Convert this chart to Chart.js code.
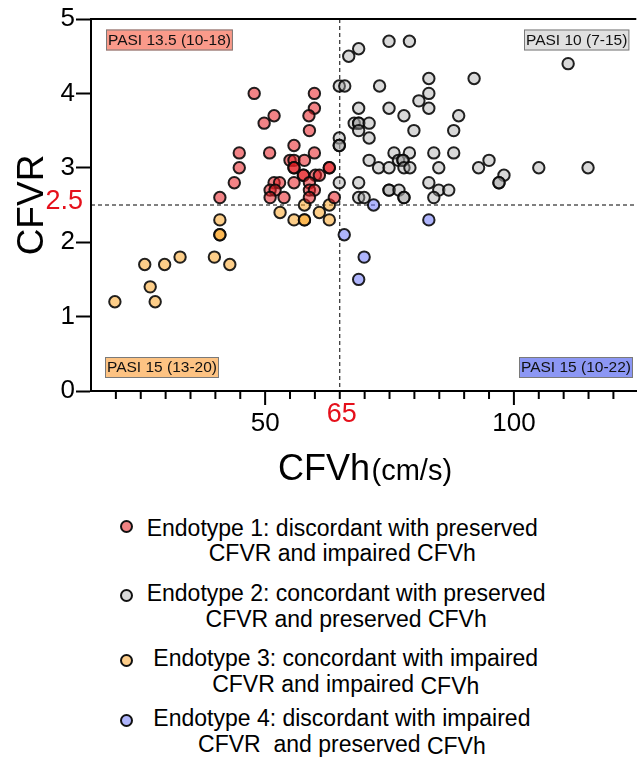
<!DOCTYPE html>
<html>
<head>
<meta charset="utf-8">
<script src="https://cdn.jsdelivr.net/npm/chart.js@4.4.1/dist/chart.umd.min.js"></script>
<style>
  body { margin: 0; background: #fff; font-family: "Liberation Sans", Arial, sans-serif; }
  #wrap { position: relative; width: 644px; height: 759px; overflow: hidden; }
  #plot { position: absolute; left: 0; top: 0; }
  .dot { position: absolute; width: 9px; height: 9px; border: 2px solid #111; border-radius: 50%; }
  .txt { position: absolute; font-size: 23px; line-height: 25.5px; text-align: center; white-space: pre; color: #000; }
  .low { position: relative; top: 2px; }
</style>
</head>
<body>
<div id="wrap">
  <canvas id="plot" width="644" height="500"></canvas>
  <div id="legend"></div>
</div>
<script>
// datos: [CFVh, CFVR]
var endotipo1 = [
  [47.8,4.0],[59.9,4.0],[59.9,3.8],[58.8,3.7],[51.8,3.7],[49.8,3.6],[58.9,3.5],
  [44.8,3.2],[50.9,3.2],[55.8,3.3],[59.9,3.2],[44.8,3.0],[55.0,3.1],[55.8,3.1],[57.9,3.1],
  [55.8,3.0],[55.8,3.0],[62.9,3.0],[62.9,3.0],[57.7,2.9],[57.7,2.9],[60.1,2.9],[60.9,2.9],
  [43.8,2.8],[51.8,2.8],[52.9,2.8],[55.8,2.8],[58.9,2.8],[51.0,2.7],[52.0,2.7],[58.9,2.7],
  [59.9,2.7],[40.9,2.6],[51.0,2.6],[53.8,2.6],[58.9,2.6],[63.9,2.6]
];
var endotipo2 = [
  [74.9,4.7],[79.0,4.7],[68.8,4.6],[66.8,4.5],[110.9,4.4],[82.9,4.2],[92.0,4.2],[64.9,4.1],
  [66.0,4.1],[73.0,4.1],[82.9,4.0],[80.9,3.9],[68.8,3.8],[74.9,3.8],[82.9,3.8],[77.9,3.7],
  [88.9,3.7],[67.9,3.6],[68.8,3.6],[68.8,3.6],[70.9,3.6],[68.8,3.5],[79.9,3.5],[87.9,3.5],
  [64.9,3.4],[70.9,3.4],[64.9,3.3],[64.9,3.3],[75.9,3.2],[79.0,3.2],[83.9,3.2],[87.9,3.2],
  [70.9,3.1],[76.8,3.1],[77.7,3.1],[77.7,3.1],[95.0,3.1],[72.8,3.0],[74.9,3.0],[77.9,3.0],
  [79.1,3.0],[84.9,3.0],[92.9,3.0],[105.0,3.0],[114.9,3.0],[98.0,2.9],[97.0,2.8],[97.0,2.8],
  [64.9,2.8],[68.8,2.8],[82.9,2.8],[74.9,2.7],[74.9,2.7],[76.9,2.7],[84.9,2.7],[86.9,2.7],
  [68.8,2.6],[69.9,2.6],[77.9,2.6],[77.9,2.6],[83.9,2.6]
];
var endotipo3 = [
  [19.8,1.2],[25.8,1.7],[26.9,1.4],[27.9,1.2],[29.8,1.7],[32.9,1.8],[39.8,1.8],[40.9,2.3],
  [40.9,2.1],[40.9,2.1],[42.9,1.7],[53.0,2.4],[55.8,2.3],[57.9,2.3],[57.9,2.3],[57.9,2.5],
  [60.9,2.4],[62.9,2.3],[62.9,2.5]
];
var endotipo4 = [[71.8,2.5],[82.9,2.3],[65.9,2.1],[69.9,1.8],[68.8,1.5]];

var xTicks = [15,20,25,30,35,40,45,50,55,60,65,70,75,80,85,90,95,100,105,110,115,120];
var xLabels = [50, 100];
var yTicks = [0,1,2,3,4,5];
var corteX = 65;   // CFVh de corte
var corteY = 2.5;  // CFVR de corte

var pasi = ["PASI 13.5 (10-18)", "PASI 10 (7-15)", "PASI 15 (13-20)", "PASI 15 (10-22)"];
var leyenda1 = ["Endotype 1: discordant with preserved", "Endotype 2: concordant with preserved",
                "Endotype 3: concordant with impaired", "Endotype 4: discordant with impaired"];
var leyenda2 = [["CFVR and impaired ", "CFVh"], ["CFVR and preserved ", "CFVh"],
                ["CFVR and impaired ", "CFVh"], ["CFVR  and preserved ", "CFVh"]];

var FONT = '"Liberation Sans", Arial, sans-serif';
var relleno = ["rgba(232,30,35,0.55)", "rgba(160,160,160,0.4)", "rgba(252,165,40,0.55)", "rgba(110,120,250,0.55)"];
var colorLeyenda = ["#f08383", "#d9d9d9", "#fdcd89", "#afb5fc"];
var colorPasi = ["#fa9a8a", "#e0e0e0", "#fdc383", "#8c97f4"];
var sitioPasi = [[106, 29.5], [524, 29.5], [105, 357], [519, 357]];

function puntos(arr) {
  return arr.map(function (p) { return { x: p[0], y: p[1] }; });
}

var lineasRef = {
  id: "lineasRef",
  beforeDatasetsDraw: function (chart) {
    var c = chart.ctx, a = chart.chartArea;
    var px = chart.scales.x.getPixelForValue(corteX);
    var py = chart.scales.y.getPixelForValue(corteY);
    c.save();
    c.strokeStyle = "#000";
    c.lineWidth = 1;
    c.setLineDash([4, 3]);
    c.beginPath();
    c.moveTo(px, a.top); c.lineTo(px, a.bottom);
    c.moveTo(a.left, py); c.lineTo(a.right, py);
    c.stroke();
    c.setLineDash([]);
    // cajas PASI
    c.font = "15.5px " + FONT;
    c.textBaseline = "middle";
    pasi.forEach(function (t, i) {
      var w = c.measureText(t).width + 4;
      var x = sitioPasi[i][0], y = sitioPasi[i][1];
      c.fillStyle = colorPasi[i];
      c.fillRect(x, y, w, 21);
      c.strokeStyle = "#7a7a7a";
      c.lineWidth = 1;
      c.strokeRect(x + 0.5, y + 0.5, w - 1, 20);
      c.fillStyle = "#111";
      c.fillText(t, x + 2, y + 11);
    });
    c.restore();
  },
  afterDraw: function (chart) {
    var c = chart.ctx, a = chart.chartArea, sx = chart.scales.x, sy = chart.scales.y;
    c.save();
    c.strokeStyle = "#000";
    c.lineWidth = 2;
    // marco superior
    c.beginPath();
    c.moveTo(a.left - 1, a.top); c.lineTo(a.right, a.top);
    c.stroke();
    // ticks eje x, largos en 50 y 100
    c.beginPath();
    xTicks.forEach(function (v) {
      if (v === 15) return;
      var p = sx.getPixelForValue(v);
      var len = xLabels.indexOf(v) >= 0 ? 14 : 8;
      c.moveTo(p, a.bottom); c.lineTo(p, a.bottom + len);
    });
    c.stroke();
    // etiquetas rojas de corte
    c.fillStyle = "#e5101b";
    c.font = "27px " + FONT;
    c.textAlign = "center";
    c.textBaseline = "alphabetic";
    c.fillText(String(corteX), sx.getPixelForValue(corteX) + 2, a.bottom + 31);
    c.textAlign = "right";
    c.fillText(String(corteY), 83, sy.getPixelForValue(corteY) + 4);
    // titulos
    c.fillStyle = "#000";
    c.textAlign = "left";
    c.font = "36px " + FONT;
    c.fillText("CFVh", 278, 479.5);
    var w = c.measureText("CFVh").width;
    c.font = "29px " + FONT;
    c.fillText("(cm/s)", 278 + w + 1.5, 479.5);
    c.translate(43, 205);
    c.rotate(-Math.PI / 2);
    c.textAlign = "center";
    c.font = "37px " + FONT;
    c.fillText("CFVR", 0, 0);
    c.restore();
  }
};

var series = [endotipo1, endotipo2, endotipo3, endotipo4];
var grafico = new Chart(document.getElementById("plot").getContext("2d"), {
  type: "scatter",
  data: {
    datasets: series.map(function (s, i) {
      return {
        label: "Endotype " + (i + 1),
        data: puntos(s),
        backgroundColor: relleno[i],
        borderColor: "rgba(10,10,10,0.9)",
        borderWidth: 2,
        pointRadius: 5.7,
        pointHoverRadius: 5.7
      };
    })
  },
  options: {
    responsive: false,
    animation: false,
    events: [],
    layout: { padding: { top: 19, left: 0, right: 0, bottom: 0 } },
    plugins: { legend: { display: false }, tooltip: { enabled: false } },
    scales: {
      x: {
        type: "linear",
        min: 15,
        max: 124.6,
        afterBuildTicks: function (s) { s.ticks = xTicks.map(function (v) { return { value: v }; }); },
        afterFit: function (s) { s.height = 109; },
        grid: { drawOnChartArea: false, drawTicks: false },
        border: { color: "#000", width: 2 },
        ticks: {
          autoSkip: false,
          maxRotation: 0,
          padding: 17,
          color: "#000",
          font: { family: FONT, size: 26 },
          callback: function (v) { return xLabels.indexOf(v) >= 0 ? String(v) : ""; }
        }
      },
      y: {
        min: 0,
        max: 5,
        afterBuildTicks: function (s) { s.ticks = yTicks.map(function (v) { return { value: v }; }); },
        afterFit: function (s) { s.width = 91; },
        grid: { drawOnChartArea: false, tickLength: 15, tickWidth: 2, tickColor: "#000" },
        border: { color: "#000", width: 2 },
        ticks: { padding: 1, color: "#000", font: { family: FONT, size: 26 } }
      }
    }
  },
  plugins: [lineasRef]
});

// leyenda en html
var topsTexto = [515.6, 581.1, 646.1, 706.1];
var topsPunto = [520.2, 588.5, 653.5, 713.5];
var izq = [146.7, 146.7, 153.3, 153.3];
var leg = document.getElementById("legend");
leyenda1.forEach(function (t, i) {
  var d = document.createElement("span");
  d.className = "dot";
  d.style.left = "120px";
  d.style.top = topsPunto[i] + "px";
  d.style.background = colorLeyenda[i];
  leg.appendChild(d);
  var b = document.createElement("div");
  b.className = "txt";
  b.style.left = izq[i] + "px";
  b.style.top = topsTexto[i] + "px";
  var l1 = document.createElement("div");
  l1.textContent = t;
  var l2 = document.createElement("div");
  l2.appendChild(document.createTextNode(leyenda2[i][0]));
  var h = document.createElement("span");
  h.textContent = leyenda2[i][1];
  if (i >= 2) h.className = "low";
  l2.appendChild(h);
  b.appendChild(l1);
  b.appendChild(l2);
  leg.appendChild(b);
});
</script>
</body>
</html>
